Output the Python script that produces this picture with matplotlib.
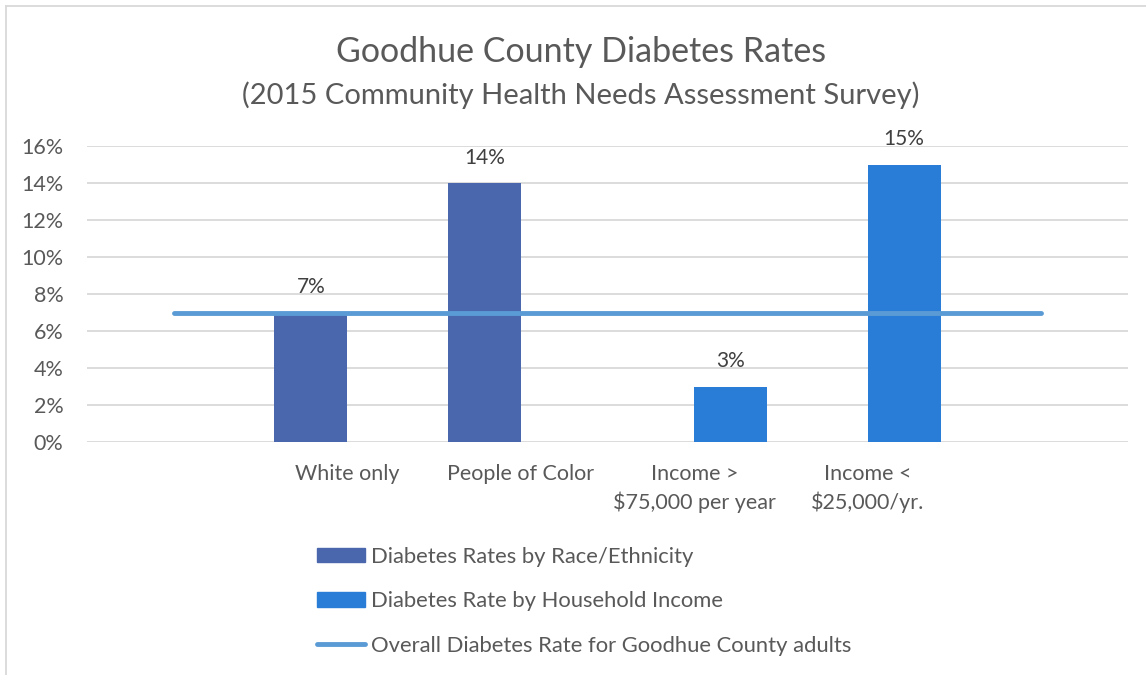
import numpy as np
import matplotlib.pyplot as plt
from matplotlib.lines import Line2D
from matplotlib.patches import Patch
from matplotlib.ticker import PercentFormatter

# Категории (крайние пустые - линия тянется от центра первой до центра последней)
categories = ['', 'White only', 'People of Color', 'Income >\n$75,000 per year',
              'Income <\n$25,000/yr.', '']
race_rates = [None, 0.07, 0.14, None, None, None]
income_rates = [None, None, None, 0.03, 0.15, None]
overall_rate = [0.07, 0.07, 0.07, 0.07, 0.07, 0.07]

legend_labels = ['Diabetes Rates by Race/Ethnicity',
                 'Diabetes Rate by Household Income',
                 'Overall Diabetes Rate for Goodhue County adults']

c_race = '#4A66AC'
c_income = '#2A7DD6'
c_line = '#5B9BD5'
c_text = '#595959'
c_grid = '#D9D9D9'

plt.rcParams['font.family'] = ['Lato', 'DejaVu Sans']

fig = plt.figure(figsize=(11.46, 6.75), dpi=100)
ax = fig.add_axes([87 / 1146, 1 - 442 / 675, 1041 / 1146, 296 / 675])

x = np.arange(len(categories))
w = 0.42

# Столбцы: раса - слева от центра категории, доход - справа
for i, v in enumerate(race_rates):
    if v is not None:
        ax.bar(x[i] - w / 2, v, width=w, color=c_race, zorder=3)
        ax.annotate(f'{v:.0%}', (x[i] - w / 2, v), xytext=(0, 11),
                    textcoords='offset points', ha='center', va='bottom',
                    fontsize=15, color='#404040')
for i, v in enumerate(income_rates):
    if v is not None:
        ax.bar(x[i] + w / 2, v, width=w, color=c_income, zorder=3)
        ax.annotate(f'{v:.0%}', (x[i] + w / 2, v), xytext=(0, 11),
                    textcoords='offset points', ha='center', va='bottom',
                    fontsize=15, color='#404040')

ax.plot(x, overall_rate, color=c_line, lw=3.5, solid_capstyle='round', zorder=4)

ax.set_xlim(-0.5, len(categories) - 0.5)
ax.set_ylim(0, 0.16)
ax.set_yticks(np.arange(0, 0.161, 0.02))
ax.yaxis.set_major_formatter(PercentFormatter(1.0, decimals=0))
ax.set_xticks(x)
ax.set_xticklabels(categories, linespacing=1.42)
ax.tick_params(length=0, labelsize=15.5, labelcolor=c_text)
ax.tick_params(axis='y', pad=17)
ax.tick_params(axis='x', pad=16)
ax.grid(axis='y', color=c_grid, lw=1.3, zorder=0)
for s in ax.spines.values():
    s.set_visible(False)

fig.text(0.507, 1 - 52 / 675, 'Goodhue County Diabetes Rates', ha='center',
         va='center', fontsize=24.5, color=c_text)
fig.text(0.507, 1 - 95 / 675, '(2015 Community Health Needs Assessment Survey)',
         ha='center', va='center', fontsize=21, color=c_text)

handles = [Patch(color=c_race), Patch(color=c_income),
           Line2D([0], [0], color=c_line, lw=3.5, solid_capstyle='round')]
fig.legend(handles, legend_labels, loc='upper left',
           bbox_to_anchor=(297 / 1146, 1 - 527 / 675), frameon=False,
           fontsize=15.8, labelcolor=c_text, handlelength=2.2, handleheight=0.65,
           handletextpad=0.25, labelspacing=1.12)

# Рамка диаграммы (видна только сверху и слева)
fig.add_artist(Line2D([6 / 1146, 6 / 1146], [0, 1 - 6 / 675], color=c_grid,
                      lw=1.3, transform=fig.transFigure))
fig.add_artist(Line2D([6 / 1146, 1], [1 - 6 / 675, 1 - 6 / 675], color=c_grid,
                      lw=1.3, transform=fig.transFigure))

fig.savefig('out.png', dpi=100)
